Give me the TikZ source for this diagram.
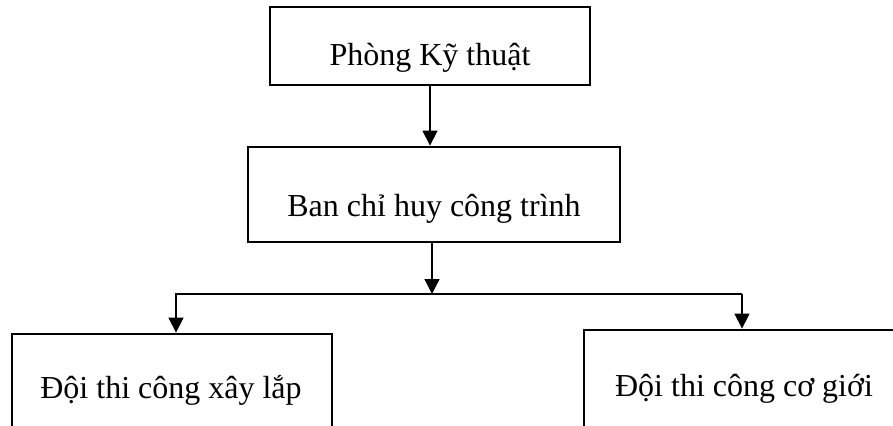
\documentclass[tikz,border=0pt]{standalone}
\usepackage{fontspec}
\setmainfont{Liberation Serif}
\usetikzlibrary{arrows.meta}

\tikzset{
  unitbox/.style={draw=black, line width=1.4pt, fill=white, inner sep=0pt},
  unitlbl/.style={anchor=base, inner sep=0pt, font=\fontsize{16}{19}\selectfont},
  link/.style={draw=black, line width=0.6pt},
  linkarr/.style={link, -{Triangle[length=7.5pt, width=7.5pt]}}
}

\begin{document}
\begin{tikzpicture}[x=0.5pt, y=-0.5pt]
  % Page frame (the lower boxes run past the edge)
  \useasboundingbox (0,0) rectangle (893,425);
  \clip (0,0) rectangle (893,425);

  % Boxes
  \node[unitbox, minimum width=160pt, minimum height=39pt] (phong) at (430,46) {};
  \node[unitbox, minimum width=186pt, minimum height=47.5pt] (chihuy) at (434,194.5) {};
  \node[unitbox, minimum width=160pt, minimum height=63pt] (xaylap) at (172,397) {};
  \node[unitbox, minimum width=160pt, minimum height=65pt] (cogioi) at (744,395) {};

  % Box texts
  \node[unitlbl] (phongTxt) at (430,65) {Phòng Kỹ thuật};
  \node[unitlbl] (chihuyTxt) at (434,216) {Ban chỉ huy công trình};
  \node[unitlbl] (xaylapTxt) at (171,398) {Đội thi công xây lắp};
  \node[unitlbl] (cogioiTxt) at (744,396) {Đội thi công cơ giới};

  % Branch line
  \coordinate (busL) at (176,294);
  \coordinate (busR) at (742,294);

  % Connectors
  \draw[linkarr] (phong.south) -- (phong.south |- chihuy.north);
  \draw[linkarr] ([xshift=-1pt]chihuy.south) -- ([xshift=-1pt]chihuy.south |- busL);
  \draw[linkarr] (busR) -- (busL) -- (busL |- xaylap.north);
  \draw[linkarr] (busR) -- (busR |- cogioi.north);
\end{tikzpicture}
\end{document}
